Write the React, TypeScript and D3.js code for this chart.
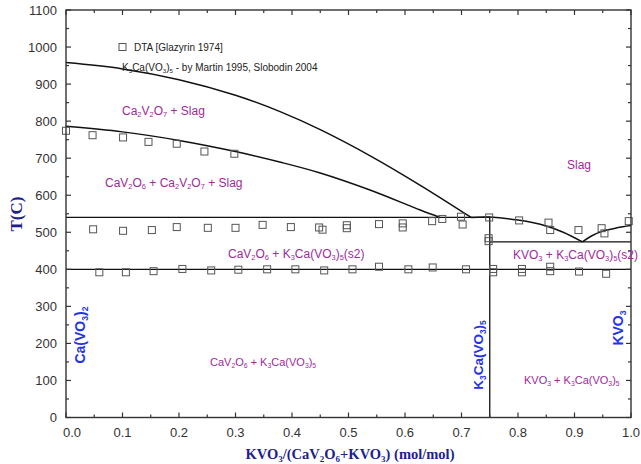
import React from "react";
import * as d3 from "d3";

// Axis ticks
const xTicks = [0, 0.1, 0.2, 0.3, 0.4, 0.5, 0.6, 0.7, 0.8, 0.9, 1.0];
const xMinor = [0.05, 0.15, 0.25, 0.35, 0.45, 0.55, 0.65, 0.75, 0.85, 0.95];
const yTicks = [0, 100, 200, 300, 400, 500, 600, 700, 800, 900, 1000, 1100];
const yMinor = [50, 150, 250, 350, 450, 550, 650, 750, 850, 950, 1050];

// DTA measurements [Glazyrin 1974]
const dtaX = [
  0.0, 0.047, 0.101, 0.146, 0.196, 0.245, 0.298,
  0.048, 0.101, 0.152, 0.196, 0.251, 0.3, 0.348, 0.398, 0.448, 0.454, 0.497, 0.497,
  0.554, 0.596, 0.596, 0.648, 0.666, 0.699, 0.702, 0.749, 0.748, 0.748, 0.802, 0.854,
  0.857, 0.907, 0.948, 0.953, 0.996,
  0.059, 0.106, 0.155, 0.206, 0.257, 0.305, 0.356, 0.406, 0.457, 0.507, 0.554, 0.606,
  0.649, 0.708, 0.756, 0.756, 0.807, 0.807, 0.857, 0.857, 0.908, 0.956,
];
const dtaT = [
  774, 762, 756, 744, 739, 718, 712,
  508, 504, 506, 514, 512, 512, 520, 514, 513, 507, 519, 511,
  522, 524, 513, 530, 536, 542, 521, 540, 484, 476, 532, 526,
  506, 506, 511, 497, 530,
  392, 392, 395, 401, 397, 399, 400, 400, 397, 400, 407, 400,
  405, 400, 401, 392, 401, 392, 407, 395, 394, 388,
];

// Liquidus of Ca2V2O7
const ca2v2o7X = [0, 0.1, 0.2, 0.3, 0.38, 0.45, 0.54, 0.63, 0.717];
const ca2v2o7T = [958, 941, 912, 870, 825, 777, 705, 624, 540];
// Liquidus of CaV2O6
const cav2o6X = [0, 0.1, 0.2, 0.3, 0.38, 0.45, 0.538, 0.627, 0.662];
const cav2o6T = [786, 771, 748, 718, 689, 660, 614, 560, 540];
// Liquidus of K3Ca(VO3)5 down to the eutectic
const k3caX = [0.717, 0.75, 0.8, 0.85, 0.88, 0.914];
const k3caT = [540, 541, 533, 517, 500, 474];
// Liquidus of KVO3
const kvo3X = [0.914, 0.93, 0.95, 0.975, 1.0];
const kvo3T = [474, 490, 503, 512, 518];

// Invariant lines
const peritecticT = 540;
const eutectoidT = 400;
const eutecticT = 474;
const compoundX = 0.75;

const W = 641;
const H = 464;
const x = d3.scaleLinear().domain([0, 1]).range([66, 631]);
const y = d3.scaleLinear().domain([0, 1100]).range([417.5, 10]);

const SANS = "'Liberation Sans', Arial, sans-serif";
const SERIF = "'Liberation Serif', 'Times New Roman', serif";
const PURPLE = "#9E2A9C";
const BLUE = "#2432EE";
const NAVY = "#1E1E8E";
const AXIS = "#333";

// Renders "Ca_2V_2O_7" with "_n" as a subscript
function Chem({ s }: { s: string }) {
  const parts: React.ReactNode[] = [];
  let buf = "";
  let sub = false;
  let key = 0;
  for (let i = 0; i < s.length; i++) {
    const c = s[i];
    if (c === "_" && i + 1 < s.length) {
      if (buf) parts.push(<tspan key={key++}>{buf}</tspan>);
      const wasSub = sub;
      buf = "";
      parts.push(
        <tspan key={key++} fontSize="0.62em" dy={wasSub ? 0 : "0.3em"}>
          {s[i + 1]}
        </tspan>
      );
      sub = true;
      i++;
    } else {
      if (sub) {
        parts.push(<tspan key={key++} dy="-0.186em">{c}</tspan>);
        sub = false;
      } else buf += c;
    }
  }
  if (buf) parts.push(<tspan key={key++}>{buf}</tspan>);
  return <>{parts}</>;
}

function Label({ px, py, s, size = 12, color = PURPLE, rotate = 0, weight = "normal", anchor = "start" }: any) {
  return (
    <text
      x={px}
      y={py}
      fill={color}
      fontFamily={SANS}
      fontSize={size}
      fontWeight={weight}
      textAnchor={anchor}
      transform={rotate ? `rotate(${rotate},${px},${py})` : undefined}
    >
      <Chem s={s} />
    </text>
  );
}

export default function App() {
  const line = d3
    .line<[number, number]>()
    .x((d) => x(d[0]))
    .y((d) => y(d[1]))
    .curve(d3.curveCatmullRom.alpha(0.5));
  const zip = (a: number[], b: number[]) => a.map((v, i) => [v, b[i]] as [number, number]);

  const x0 = x(0), x1 = x(1), yTop = y(1100), yBot = y(0);

  return (
    <svg width={W} height={H} style={{ position: "absolute", left: 0, top: 0, background: "#fff" }}>
      {/* phase boundaries */}
      <g fill="none" stroke="#111" strokeWidth={1.5}>
        <path d={line(zip(ca2v2o7X, ca2v2o7T)) || ""} />
        <path d={line(zip(cav2o6X, cav2o6T)) || ""} />
        <path d={line(zip(k3caX, k3caT)) || ""} />
        <path d={line(zip(kvo3X, kvo3T)) || ""} />
      </g>
      <g stroke="#111" strokeWidth={1.3}>
        <line x1={x0} x2={x(compoundX)} y1={y(peritecticT)} y2={y(peritecticT)} />
        <line x1={x0} x2={x1} y1={y(eutectoidT)} y2={y(eutectoidT)} />
        <line x1={x(compoundX)} x2={x1} y1={y(eutecticT)} y2={y(eutecticT)} />
        <line x1={x(compoundX)} x2={x(compoundX)} y1={y(peritecticT)} y2={yBot} />
      </g>

      {/* DTA points */}
      <g fill="none" stroke="#555" strokeWidth={1}>
        {dtaX.map((v, i) => (
          <rect key={i} x={x(v) - 3.5} y={y(dtaT[i]) - 3.5} width={7} height={7} />
        ))}
      </g>

      {/* frame and ticks */}
      <rect x={x0} y={yTop} width={x1 - x0} height={yBot - yTop} fill="none" stroke={AXIS} strokeWidth={1.4} />
      <g stroke={AXIS} strokeWidth={1.2}>
        {xTicks.map((t) => (
          <g key={"xt" + t}>
            <line x1={x(t)} x2={x(t)} y1={yBot} y2={yBot - 5} />
            <line x1={x(t)} x2={x(t)} y1={yTop} y2={yTop + 5} />
          </g>
        ))}
        {xMinor.map((t) => (
          <g key={"xm" + t}>
            <line x1={x(t)} x2={x(t)} y1={yBot} y2={yBot - 3} />
            <line x1={x(t)} x2={x(t)} y1={yTop} y2={yTop + 3} />
          </g>
        ))}
        {yTicks.map((t) => (
          <g key={"yt" + t}>
            <line x1={x0} x2={x0 + 5} y1={y(t)} y2={y(t)} />
            <line x1={x1} x2={x1 - 5} y1={y(t)} y2={y(t)} />
          </g>
        ))}
        {yMinor.map((t) => (
          <g key={"ym" + t}>
            <line x1={x0} x2={x0 + 3} y1={y(t)} y2={y(t)} />
            <line x1={x1} x2={x1 - 3} y1={y(t)} y2={y(t)} />
          </g>
        ))}
      </g>
      <g fill={AXIS} fontFamily={SANS} fontSize={13}>
        {xTicks.map((t) => (
          <text key={"xl" + t} x={x(t) + (t === 0 ? 6 : 0)} y={437} textAnchor="middle">
            {t.toFixed(1)}
          </text>
        ))}
        {yTicks.map((t) => (
          <text key={"yl" + t} x={57} y={y(t) + 4.5} textAnchor="end">
            {t}
          </text>
        ))}
      </g>

      {/* axis titles */}
      <text x={350} y={459} textAnchor="middle" fill={NAVY} fontFamily={SERIF} fontSize={14.5} fontWeight="bold">
        <Chem s="KVO_3/(CaV_2O_6+KVO_3) (mol/mol)" />
      </text>
      <text
        x={22}
        y={214}
        textAnchor="middle"
        fill={NAVY}
        fontFamily={SERIF}
        fontSize={17}
        fontWeight="bold"
        transform="rotate(-90,22,214)"
      >
        T(C)
      </text>

      {/* legend */}
      <rect x={119} y={43.5} width={7} height={7} fill="none" stroke="#555" strokeWidth={1} />
      <text x={134} y={51} fontFamily={SANS} fontSize={10} fill="#222">
        DTA [Glazyrin 1974]
      </text>
      <text x={122} y={71} fontFamily={SANS} fontSize={10} fill="#222">
        <Chem s="K_3Ca(VO_3)_5 - by Martin 1995, Slobodin 2004" />
      </text>

      {/* phase field labels */}
      <Label px={122} py={115} s="Ca_2V_2O_7 + Slag" />
      <Label px={105} py={187} s="CaV_2O_6 + Ca_2V_2O_7 + Slag" />
      <Label px={567} py={169} s="Slag" />
      <Label px={228} py={258} s="CaV_2O_6 + K_3Ca(VO_3)_5(s2)" />
      <Label px={513} py={259} s="KVO_3 + K_3Ca(VO_3)_5(s2)" />
      <Label px={210} py={366} s="CaV_2O_6 + K_3Ca(VO_3)_5" size={11} />
      <Label px={524} py={384} s="KVO_3 + K_3Ca(VO_3)_5" size={11} />

      {/* compound labels */}
      <Label px={85} py={335} s="Ca(VO_3)_2" size={14} color={BLUE} weight="bold" rotate={-90} anchor="middle" />
      <Label px={483} py={355} s="K_3Ca(VO_3)_5" size={13.5} color={BLUE} weight="bold" rotate={-90} anchor="middle" />
      <Label px={623} py={328} s="KVO_3" size={14} color={BLUE} weight="bold" rotate={-90} anchor="middle" />
    </svg>
  );
}
